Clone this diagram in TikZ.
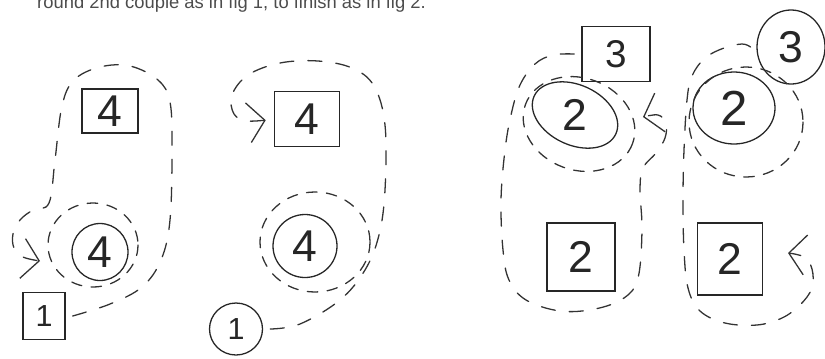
\documentclass[tikz,border=0pt]{standalone}
\usepackage{fontspec}
\setmainfont{Liberation Sans}
\usetikzlibrary{shapes.geometric,arrows.meta}

\begin{document}
\begin{tikzpicture}[x=0.03cm,y=-0.03cm,
  pen/.style={line width=1.1pt,draw=black!85,inner sep=0pt,text=black!85},
  dig/.style={font=\fontsize{#1}{#1}\selectfont},
  sq/.style={pen,rectangle},
  rnd/.style={pen,ellipse},
  track/.style={line width=1.1pt,black!80,dash pattern=on 12pt off 12pt,line cap=round},
  ring/.style={track,dash pattern=on 9pt off 8pt},
  barb/.style={-{Straight Barb[length=5mm,width=12mm,line width=1.1pt]}}]
\useasboundingbox (0,0) rectangle (825,358);

\node[anchor=base west,inner sep=0pt,text=black!70,font=\fontsize{15.7}{18}\selectfont] (title) at (37,8.5) {round 2nd couple as in fig 1, to finish as in fig 2.};

% fig 1
\node[sq,dig=38,minimum width=1.68cm,minimum height=1.32cm] (sqA4) at (110,111) {4};
\node[rnd,dig=38,minimum width=1.68cm,minimum height=1.71cm] (rdA4) at (100,252) {4};
\node[sq,dig=26,minimum width=1.26cm,minimum height=1.41cm] (sqA1) at (44,316) {1};
\coordinate (tipA) at (40,261);
\draw[ring] (93,245) ellipse [x radius=45,y radius=42];
\draw[track,barb] plot[smooth,tension=0.6] coordinates {([xshift=6pt]sqA1.east) (110,304) (142,287) (161,260) (170,220) (172,150) (170,102) (158,80) (130,66) (100,67) (74,80) (62,106) (55,160) (49,203) (33,210) (20,220) (13,234) (14,248) (23,257) (tipA)};

% fig 1, second half
\node[sq,dig=38,minimum width=1.95cm,minimum height=1.65cm] (sqB4) at (307,119) {4};
\node[rnd,dig=38,minimum width=1.92cm,minimum height=1.89cm] (rdB4) at (305,246) {4};
\node[rnd,dig=26,minimum width=1.59cm,minimum height=1.56cm] (rdB1) at (236,329) {1};
\draw[ring] (315,242) ellipse [x radius=55,y radius=50];
\draw[track,barb,shorten >=7pt] plot[smooth,tension=0.6] coordinates {([xshift=6pt]rdB1.east) (300,324) (340,300) (365,270) (379,235) (385,190) (385,125) (374,86) (352,68) (318,61) (280,63) (248,75) (232,95) (234,114) (248,121) (sqB4.west)};

% fig 2
\node[sq,dig=33,minimum width=2.04cm,minimum height=1.65cm] (sqC3) at (616,54) {3};
\node[rnd,dig=38,minimum width=2.7cm,minimum height=1.8cm,rotate=-25] (rdC2) at (575,115) {\rotatebox{25}{2}};
\node[sq,dig=38,minimum width=2.04cm,minimum height=2.04cm] (sqC2) at (581,257) {2};
\coordinate (tipC) at (643,117);
\draw[ring,rotate around={-20:(579,124)}] (579,124) ellipse [x radius=57,y radius=46];
\draw[track,barb] plot[smooth,tension=0.6] coordinates {([xshift=-6pt]sqC3.west) (553,55) (535,64) (520,85) (511,115) (505,150) (501,200) (503,250) (509,280) (526,300) (560,311) (595,309) (624,298) (638,278) (642,230) (640,190) (643,168) (656,153) (665,138) (666,123) (658,115) (tipC)};

% fig 2, second half
\node[rnd,dig=38,minimum width=2.04cm,minimum height=2.22cm] (rdD3) at (791,47) {3};
\node[rnd,dig=42,minimum width=2.46cm,minimum height=2.16cm] (rdD2) at (734,108) {2};
\node[sq,dig=38,minimum width=1.95cm,minimum height=2.16cm] (sqD2) at (730,259) {2};
\coordinate (tipD) at (788,253);
\draw[ring] (746,122) ellipse [x radius=57,y radius=55];
\draw[track,barb] plot[smooth,tension=0.6] coordinates {([xshift=-5pt]rdD3.west) (742,44) (724,48) (705,58) (692,76) (687,100) (684,150) (683,200) (684,250) (688,288) (700,311) (725,323) (757,325) (782,318) (800,305) (812,288) (812,269) (804,257) (tipD)};
\end{tikzpicture}
\end{document}
